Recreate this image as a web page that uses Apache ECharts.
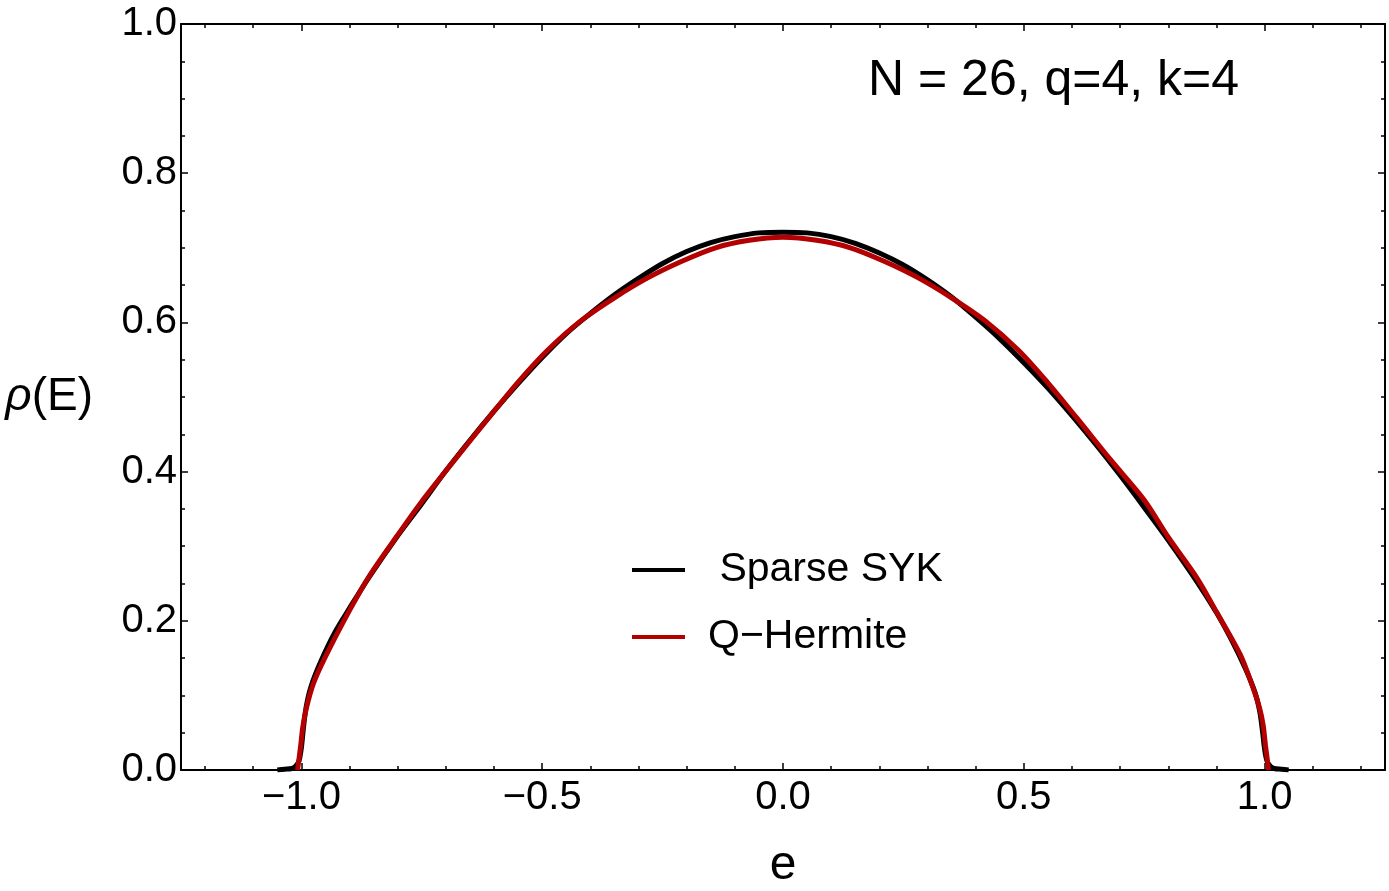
<!DOCTYPE html>
<html>
<head>
<meta charset="utf-8">
<title>Sparse SYK density</title>
<script src="https://cdn.jsdelivr.net/npm/echarts@6/dist/echarts.min.js"></script>
<style>
  html, body { margin: 0; padding: 0; background: #fff; }
  #chart { width: 1389px; height: 891px; }
</style>
</head>
<body>
<div id="chart"></div>
<script>
// values
const sykE = [-1.05, -1.035, -1.02, -1.012, -1.005, -1.0, -0.996, -0.99, -0.98, -0.96,
  -0.93, -0.9, -0.86, -0.8, -0.75, -0.7, -0.65, -0.6, -0.55, -0.5,
  -0.45, -0.4, -0.35, -0.3, -0.25, -0.2, -0.15, -0.1, -0.05, 0,
  0.05, 0.1, 0.15, 0.2, 0.25, 0.3, 0.35, 0.4, 0.45, 0.5,
  0.55, 0.6, 0.65, 0.7, 0.75, 0.8, 0.86, 0.9, 0.93, 0.96,
  0.98, 0.99, 0.996, 1.0, 1.005, 1.012, 1.02, 1.035, 1.05]
const sykRho = [0.0, 0.001, 0.002, 0.005, 0.012, 0.03, 0.055, 0.085, 0.112, 0.145,
  0.185, 0.217, 0.258, 0.314, 0.357, 0.401, 0.442, 0.481, 0.518, 0.553,
  0.585, 0.612, 0.637, 0.659, 0.679, 0.695, 0.707, 0.715, 0.72, 0.721,
  0.72, 0.715, 0.706, 0.693, 0.677, 0.657, 0.634, 0.607, 0.578, 0.546,
  0.512, 0.475, 0.436, 0.395, 0.352, 0.308, 0.252, 0.211, 0.176, 0.136,
  0.104, 0.078, 0.05, 0.028, 0.012, 0.005, 0.002, 0.001, 0.0]

const qhE = [-1.008, -1.006, -1.002, -0.997, -0.99, -0.975, -0.95, -0.9, -0.86, -0.8,
  -0.75, -0.68, -0.61, -0.55, -0.49, -0.42, -0.35, -0.28, -0.21, -0.14,
  -0.07, 0, 0.07, 0.14, 0.21, 0.28, 0.35, 0.42, 0.49, 0.55,
  0.61, 0.68, 0.75, 0.8, 0.86, 0.9, 0.95, 0.975, 0.99, 0.997,
  1.002, 1.006, 1.008]
const qhRho = [0, 0.01, 0.03, 0.058, 0.082, 0.116, 0.152, 0.214, 0.259, 0.315,
  0.36, 0.417, 0.473, 0.52, 0.562, 0.602, 0.633, 0.66, 0.682, 0.7,
  0.71, 0.714, 0.71, 0.7, 0.682, 0.66, 0.633, 0.602, 0.562, 0.519,
  0.472, 0.416, 0.362, 0.312, 0.257, 0.212, 0.154, 0.112, 0.082, 0.06,
  0.032, 0.012, 0]

const xMajorTicks = [-1.0, -0.5, 0.0, 0.5, 1.0]
const xMinorTicks = [-1.2, -1.1, -0.9, -0.8, -0.7, -0.6, -0.4, -0.3, -0.2, -0.1,
  0.1, 0.2, 0.3, 0.4, 0.6, 0.7, 0.8, 0.9, 1.1, 1.2]
const seriesNames = [' Sparse SYK', 'Q\u2212Hermite']
const annotation = 'N = 26, q=4, k=4'

const FONT = '"Liberation Sans", Arial, sans-serif'

function fmt (v) {
  return (v < 0 ? '\u2212' : '') + Math.abs(v).toFixed(1)
}

const pairs = (xs, ys) => xs.map((x, i) => [x, ys[i]])

function xAxisBase (position, ticks, major) {
  return {
    type: 'value',
    position,
    min: -1.25,
    max: 1.25,
    gridIndex: 0,
    axisLine: { show: major, onZero: false, lineStyle: { color: '#000', width: 2 } },
    axisTick: { show: true, inside: true, customValues: ticks, length: major ? 7 : 4, lineStyle: { color: '#000', width: 1.5 } },
    axisLabel: {
      show: major && position === 'bottom',
      customValues: ticks,
      formatter: fmt,
      margin: 8,
      color: '#000',
      fontSize: 40,
      fontFamily: FONT
    },
    splitLine: { show: false }
  }
}

function yAxisBase (position) {
  return {
    type: 'value',
    position,
    min: 0,
    max: 1,
    interval: 0.2,
    axisLine: { show: true, onZero: false, lineStyle: { color: '#000', width: 2 } },
    axisTick: { show: true, inside: true, length: 7, lineStyle: { color: '#000', width: 1.5 } },
    minorTick: { show: true, splitNumber: 4, length: 4, lineStyle: { color: '#000', width: 1.5 } },
    axisLabel: {
      show: position === 'left',
      formatter: v => v.toFixed(1),
      margin: 4,
      color: '#000',
      fontSize: 40,
      fontFamily: FONT
    },
    splitLine: { show: false },
    minorSplitLine: { show: false }
  }
}

const xBottom = xAxisBase('bottom', xMajorTicks, true)
xBottom.name = 'e'
xBottom.nameLocation = 'middle'
xBottom.nameGap = 72
xBottom.nameTextStyle = { color: '#000', fontSize: 48, fontFamily: FONT }

const yLeft = yAxisBase('left')
yLeft.name = '{i|\u03c1}(E)'
yLeft.nameLocation = 'middle'
yLeft.nameRotate = 0
yLeft.nameGap = 88
yLeft.nameTextStyle = {
  color: '#000',
  fontSize: 46,
  fontFamily: FONT,
  rich: { i: { fontStyle: 'italic', fontSize: 46, fontFamily: FONT, color: '#000' } }
}

const option = {
  animation: false,
  backgroundColor: '#fff',
  grid: { left: 181, right: 4, top: 24, bottom: 121, containLabel: false, outerBoundsMode: 'none' },
  xAxis: [
    xBottom,
    xAxisBase('bottom', xMinorTicks, false),
    xAxisBase('top', xMajorTicks, true),
    xAxisBase('top', xMinorTicks, false)
  ],
  yAxis: [yLeft, yAxisBase('right')],
  legend: {
    data: seriesNames,
    orient: 'vertical',
    left: 627,
    top: 542,
    icon: 'rect',
    itemWidth: 53,
    itemHeight: 4,
    itemGap: 21,
    textStyle: { color: '#000', fontSize: 41, fontFamily: FONT, lineHeight: 46, padding: [0, 0, 0, 18] }
  },
  graphic: [{
    type: 'text',
    left: 868,
    top: 56,
    style: { text: annotation, fill: '#000', font: '50px ' + FONT }
  }],
  series: [
    {
      name: seriesNames[0],
      type: 'line',
      data: pairs(sykE, sykRho),
      showSymbol: false,
      smooth: 0.3,
      lineStyle: { color: '#000', width: 5 },
      itemStyle: { color: '#000' }
    },
    {
      name: seriesNames[1],
      type: 'line',
      data: pairs(qhE, qhRho),
      showSymbol: false,
      smooth: 0.3,
      lineStyle: { color: '#b30000', width: 5 },
      itemStyle: { color: '#b30000' }
    }
  ]
}

const chart = echarts.init(document.getElementById('chart'), null, { renderer: 'canvas' })
chart.setOption(option)
</script>
</body>
</html>
